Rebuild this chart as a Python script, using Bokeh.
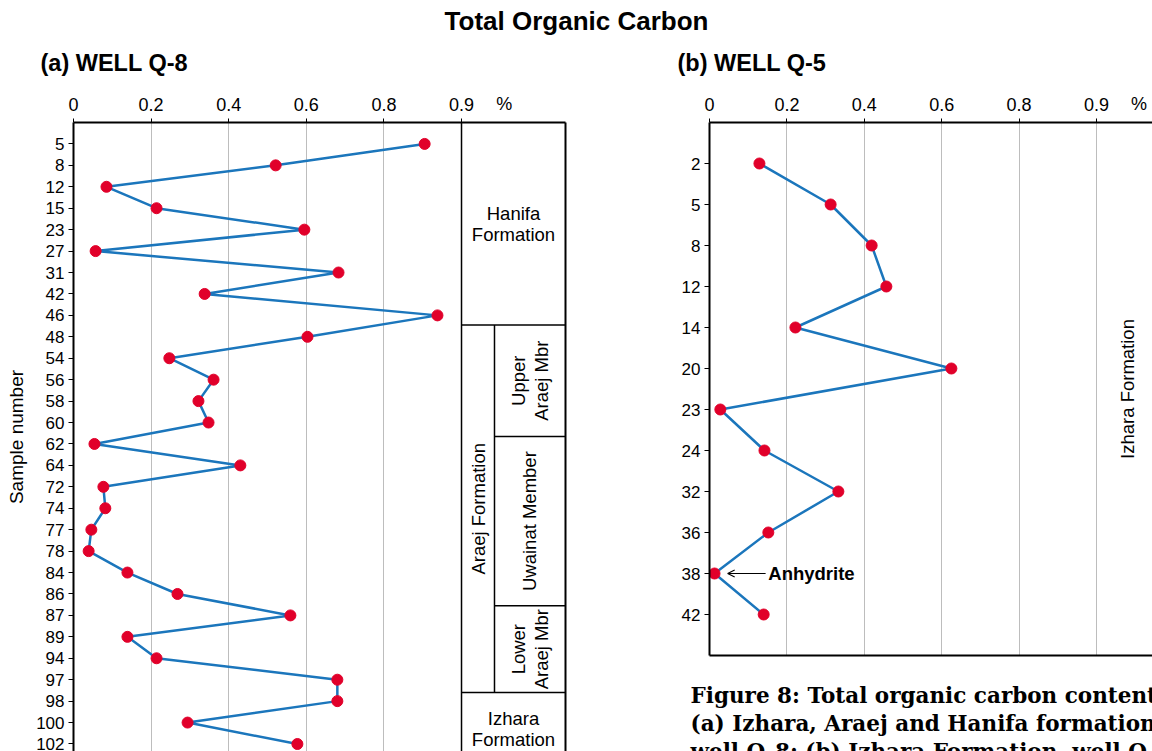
import math
from bokeh.plotting import figure
from bokeh.layouts import column, row
from bokeh.models import (Range1d, LinearAxis, FixedTicker, Label, Arrow, OpenHead,
                          ColumnDataSource)
from bokeh.core.properties import value
from bokeh.embed import file_html
from bokeh.resources import INLINE

# ---------------- data ----------------
samples_a = [5, 8, 12, 15, 23, 27, 31, 42, 46, 48, 54, 56, 58, 60, 62, 64, 72, 74,
             77, 78, 84, 86, 87, 89, 94, 97, 98, 100, 102]
toc_a = [0.905, 0.521, 0.085, 0.214, 0.595, 0.057, 0.683, 0.338, 0.938, 0.603,
         0.247, 0.361, 0.322, 0.348, 0.054, 0.430, 0.077, 0.082, 0.046, 0.039,
         0.139, 0.268, 0.559, 0.139, 0.214, 0.680, 0.680, 0.294, 0.577]

samples_b = [2, 5, 8, 12, 14, 20, 23, 24, 32, 36, 38, 42]
toc_b = [0.129, 0.313, 0.419, 0.457, 0.222, 0.625, 0.028, 0.142, 0.333, 0.152,
         0.013, 0.140]

x_ticks = [0, 0.2, 0.4, 0.6, 0.8, 1.0]
x_tick_labels = ["0", "0.2", "0.4", "0.6", "0.8", "0.9"]
unit_pos = 1.11

# formation column boundaries (in sample-row units) for well Q-8
hanifa_base = 8.45
upper_base = 13.65
uwainat_base = 21.55
araej_base = 25.6

caption = ["Figure 8: Total organic carbon content",
           "(a) Izhara, Araej and Hanifa formations",
           "well Q-8; (b) Izhara Formation, well Q-5"]

LINE_C = "#1b76bc"
DOT_C = "#e1002a"
SANS = "Liberation Sans"
SERIF = "DejaVu Serif"
TXT = "18.5px"


def blank(p):
    p.axis.visible = False
    p.grid.visible = False
    p.outline_line_color = None
    p.frame_align = False


# ---------------- title / heading strip ----------------
tfig = figure(width=1152, height=80, toolbar_location=None, output_backend="svg",
              x_range=Range1d(0, 1152), y_range=Range1d(80, 0), min_border=0)
blank(tfig)
tfig.add_layout(Label(x=576, y=20, text="Total Organic Carbon", text_align="center",
                      text_baseline="middle", text_font=SANS, text_font_style="bold",
                      text_font_size="26px", text_color="black"))
for hx, ht in [(40, "(a) WELL Q-8"), (677, "(b) WELL Q-5")]:
    tfig.add_layout(Label(x=hx, y=62, text=ht, text_align="left",
                          text_baseline="middle", text_font=SANS,
                          text_font_style="bold", text_font_size="23.5px",
                          text_color="black"))


def style_panel(p, labels):
    ax = p.xaxis[0]
    ax.ticker = FixedTicker(ticks=x_ticks)
    ax.major_label_overrides = {t: l for t, l in zip(x_ticks, x_tick_labels)}
    ax.minor_tick_line_color = None
    ax.major_tick_in = 0
    ax.major_tick_out = 4
    ax.axis_line_width = 2
    ax.major_label_text_font = SANS
    ax.major_label_text_font_size = "18px"
    ax.major_label_text_color = "black"
    ax.major_label_standoff = 8
    ay = p.yaxis[0]
    ay.ticker = FixedTicker(ticks=list(range(len(labels))))
    ay.major_label_overrides = {i: str(s) for i, s in enumerate(labels)}
    ay.minor_tick_line_color = None
    ay.major_tick_in = 0
    ay.major_tick_out = 5
    ay.axis_line_width = 2
    ay.major_label_text_font = SANS
    ay.major_label_text_font_size = "17px"
    ay.major_label_text_color = "black"
    ay.major_label_standoff = 4
    p.xgrid.ticker = FixedTicker(ticks=[0.2, 0.4, 0.6, 0.8, 1.0])
    p.xgrid.grid_line_color = "#bdbdbd"
    p.xgrid.grid_line_width = 1
    p.ygrid.visible = False
    p.outline_line_color = None
    p.background_fill_color = "white"
    # unit label "%" on its own axis row
    ua = LinearAxis(ticker=FixedTicker(ticks=[unit_pos]),
                    major_label_overrides={unit_pos: "%"},
                    axis_line_color=None, major_tick_line_color=None,
                    minor_tick_line_color=None, major_label_text_font=SANS,
                    major_label_text_font_size="18px", major_label_text_color="black",
                    major_label_standoff=-25)
    p.add_layout(ua, "above")
    p.frame_align = False


# ---------------- panel (a) ----------------
pa = figure(width=600, height=671, toolbar_location=None, output_backend="svg",
            x_axis_location="above", x_range=Range1d(0, 1.268),
            y_range=Range1d(28.35, -1),
            min_border_left=73, min_border_right=35, min_border_top=42,
            min_border_bottom=0)
style_panel(pa, samples_a)
pa.yaxis[0].axis_label = "Sample number"
pa.yaxis[0].axis_label_text_font = SANS
pa.yaxis[0].axis_label_text_font_style = "normal"
pa.yaxis[0].axis_label_text_font_size = "19px"
pa.yaxis[0].axis_label_text_color = "black"
pa.yaxis[0].axis_label_standoff = 6

ra = LinearAxis(ticker=FixedTicker(ticks=[]), axis_line_width=2,
                major_tick_line_color=None, minor_tick_line_color=None,
                major_label_text_font_size="0px")
pa.add_layout(ra, "right")

src_a = ColumnDataSource(dict(x=toc_a, y=list(range(len(samples_a)))))
pa.line("x", "y", source=src_a, line_color=LINE_C, line_width=2.5)
pa.scatter("x", "y", source=src_a, size=11, fill_color=DOT_C, line_color=DOT_C)

# formation column
colx0, colx1, colxm = 1.0, 1.268, 1.085
top_a, bot_a = -1, 28.35
pa.segment(x0=[colx0, colxm, colx0, colxm, colxm, colx0],
           y0=[top_a, hanifa_base, hanifa_base, upper_base, uwainat_base, araej_base],
           x1=[colx0, colxm, colx1, colx1, colx1, colx1],
           y1=[bot_a, araej_base, hanifa_base, upper_base, uwainat_base, araej_base],
           line_color="black", line_width=1.5)

fx = (colx0 + colx1) / 2
fxm = (colxm + colx1) / 2
pa.text(x=[fx, fx], y=[(top_a + hanifa_base) / 2, (araej_base + 29.0) / 2],
        text=["Hanifa\nFormation", "Izhara\nFormation"],
        text_align="center", text_baseline="middle", text_font=value(SANS),
        text_font_size=TXT, text_color="black", text_line_height=1.0)
pa.text(x=[(colx0 + colxm) / 2, fxm, fxm, fxm],
        y=[(hanifa_base + araej_base) / 2, (hanifa_base + upper_base) / 2,
           (upper_base + uwainat_base) / 2, (uwainat_base + araej_base) / 2],
        text=["Araej Formation", "Upper\nAraej Mbr", "Uwainat Member", "Lower\nAraej Mbr"],
        angle=math.pi / 2, text_align="center", text_baseline="middle",
        text_font=value(SANS), text_font_size=TXT, text_color="black",
        text_line_height=1.05)

# ---------------- panel (b) ----------------
pb = figure(width=552, height=585, toolbar_location=None, output_backend="svg",
            x_axis_location="above", x_range=Range1d(0, 1.1447),
            y_range=Range1d(12, -1),
            min_border_left=109, min_border_right=0, min_border_top=42,
            min_border_bottom=10)
style_panel(pb, samples_b)
bb = LinearAxis(ticker=FixedTicker(ticks=[]), axis_line_width=2,
                major_tick_line_color=None, minor_tick_line_color=None,
                major_label_text_font_size="0px")
pb.add_layout(bb, "below")

src_b = ColumnDataSource(dict(x=toc_b, y=list(range(len(samples_b)))))
pb.line("x", "y", source=src_b, line_color=LINE_C, line_width=2.5)
pb.scatter("x", "y", source=src_b, size=11, fill_color=DOT_C, line_color=DOT_C)

anh_i = samples_b.index(38)
pb.add_layout(Arrow(end=OpenHead(size=7, line_width=1.2, line_color="black"),
                    x_start=0.145, y_start=anh_i, x_end=0.047, y_end=anh_i,
                    line_color="black", line_width=1.2))
pb.add_layout(Label(x=0.152, y=anh_i, text="Anhydrite", text_align="left",
                    text_baseline="middle", text_font=SANS, text_font_style="bold",
                    text_font_size=TXT, text_color="black"))
pb.text(x=[1.08], y=[5.5], text=["Izhara Formation"], angle=math.pi / 2,
        text_align="center", text_baseline="middle", text_font=value(SANS),
        text_font_size=TXT, text_color="black")

# ---------------- caption strip ----------------
cfig = figure(width=552, height=86, toolbar_location=None, output_backend="svg",
              x_range=Range1d(600, 1152), y_range=Range1d(751, 665), min_border=0)
blank(cfig)
for k, t in enumerate(caption):
    cfig.add_layout(Label(x=690, y=695 + 28 * k, text=t, text_align="left",
                          text_baseline="middle", text_font=SERIF,
                          text_font_style="bold", text_font_size="21.5px",
                          text_color="black"))

layout = column(tfig, row(pa, column(pb, cfig)))
open("out.html", "w").write(file_html(layout, INLINE))
